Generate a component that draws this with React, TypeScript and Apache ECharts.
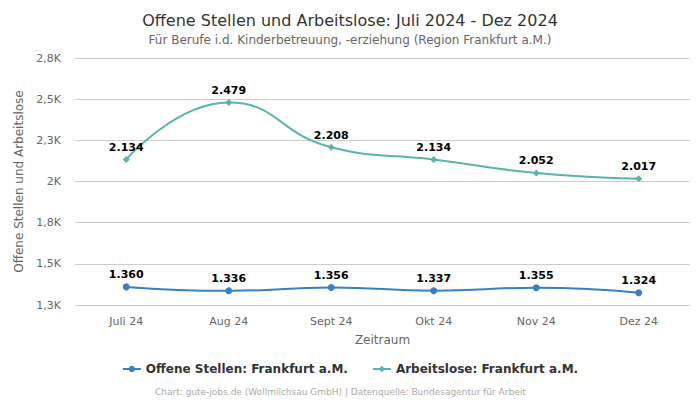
import React, { useEffect, useRef } from "react";
import * as echarts from "echarts";

const categories = ["Juli 24", "Aug 24", "Sept 24", "Okt 24", "Nov 24", "Dez 24"];
const offeneStellen = [1360, 1336, 1356, 1337, 1355, 1324];
const arbeitslose = [2134, 2479, 2208, 2134, 2052, 2017];
const seriesNames = ["Offene Stellen: Frankfurt a.M.", "Arbeitslose: Frankfurt a.M."];
const colors = ["#3a7fbf", "#5ab4ac"];

const FONT = "DejaVu Sans";

function fmtAxis(v: number): string {
  if (v >= 1000) {
    const k = v / 1000;
    const r = Math.round(k * 10) / 10;
    return (Number.isInteger(r) ? String(r) : r.toFixed(1).replace(".", ",")) + "K";
  }
  return String(v);
}

function fmtVal(v: number): string {
  return v.toLocaleString("de-DE");
}

export default function App() {
  const ref = useRef<HTMLDivElement>(null);
  useEffect(() => {
    if (!ref.current) return;
    document.body.style.margin = "0";
    const chart = echarts.init(ref.current, null, { renderer: "svg" });
    chart.setOption({
      animation: false,
      textStyle: { fontFamily: FONT },
      title: {
        text: "Offene Stellen und Arbeitslose: Juli 2024 - Dez 2024",
        subtext: "Für Berufe i.d. Kinderbetreuung, -erziehung (Region Frankfurt a.M.)",
        left: "center",
        top: 7,
        itemGap: 6,
        textStyle: { fontFamily: FONT, fontSize: 16, fontWeight: "normal", color: "#333" },
        subtextStyle: { fontFamily: FONT, fontSize: 12, color: "#666" },
      },
      legend: {
        bottom: 20,
        left: "center",
        itemGap: 24,
        itemWidth: 18,
        itemHeight: 8,
        textStyle: { fontFamily: FONT, fontSize: 12, fontWeight: "bold", color: "#333" },
        data: seriesNames,
      },
      graphic: [
        {
          type: "text",
          left: 155,
          bottom: 4,
          style: {
            text: "Chart: gute-jobs.de (Wollmilchsau GmbH) | Datenquelle: Bundesagentur für Arbeit",
            fill: "#aaa",
            fontSize: 9,
            fontFamily: FONT,
          },
        },
      ],
      grid: { left: 75, right: 10, top: 58, bottom: 95 },
      xAxis: {
        type: "category",
        data: categories,
        name: "Zeitraum",
        nameLocation: "middle",
        nameGap: 29,
        nameTextStyle: { fontFamily: FONT, fontSize: 12, color: "#666" },
        axisLine: { show: false },
        axisTick: { show: false },
        axisLabel: { fontFamily: FONT, fontSize: 11, color: "#666", margin: 11 },
      },
      yAxis: {
        type: "value",
        min: 1250,
        max: 2750,
        interval: 250,
        name: "Offene Stellen und Arbeitslose",
        nameLocation: "middle",
        nameGap: 44,
        nameTextStyle: { fontFamily: FONT, fontSize: 12, color: "#666" },
        axisLabel: { fontFamily: FONT, fontSize: 11, color: "#666", margin: 14, formatter: fmtAxis },
        splitLine: { lineStyle: { color: "#ccc" } },
      },
      series: [
        {
          name: seriesNames[0],
          type: "line",
          smooth: true,
          data: offeneStellen,
          color: colors[0],
          symbol: "circle",
          symbolSize: 7,
          lineStyle: { width: 2 },
          label: {
            show: true,
            position: "top",
            distance: 3,
            fontFamily: FONT,
            fontSize: 11,
            fontWeight: "bold",
            color: "#000",
            formatter: (p: any) => fmtVal(p.value),
          },
        },
        {
          name: seriesNames[1],
          type: "line",
          smooth: true,
          data: arbeitslose,
          color: colors[1],
          symbol: "diamond",
          symbolSize: 7,
          lineStyle: { width: 2 },
          label: {
            show: true,
            position: "top",
            distance: 3,
            fontFamily: FONT,
            fontSize: 11,
            fontWeight: "bold",
            color: "#000",
            formatter: (p: any) => fmtVal(p.value),
          },
        },
      ],
    });
    return () => chart.dispose();
  }, []);
  return <div ref={ref} style={{ width: 700, height: 400 }} />;
}
